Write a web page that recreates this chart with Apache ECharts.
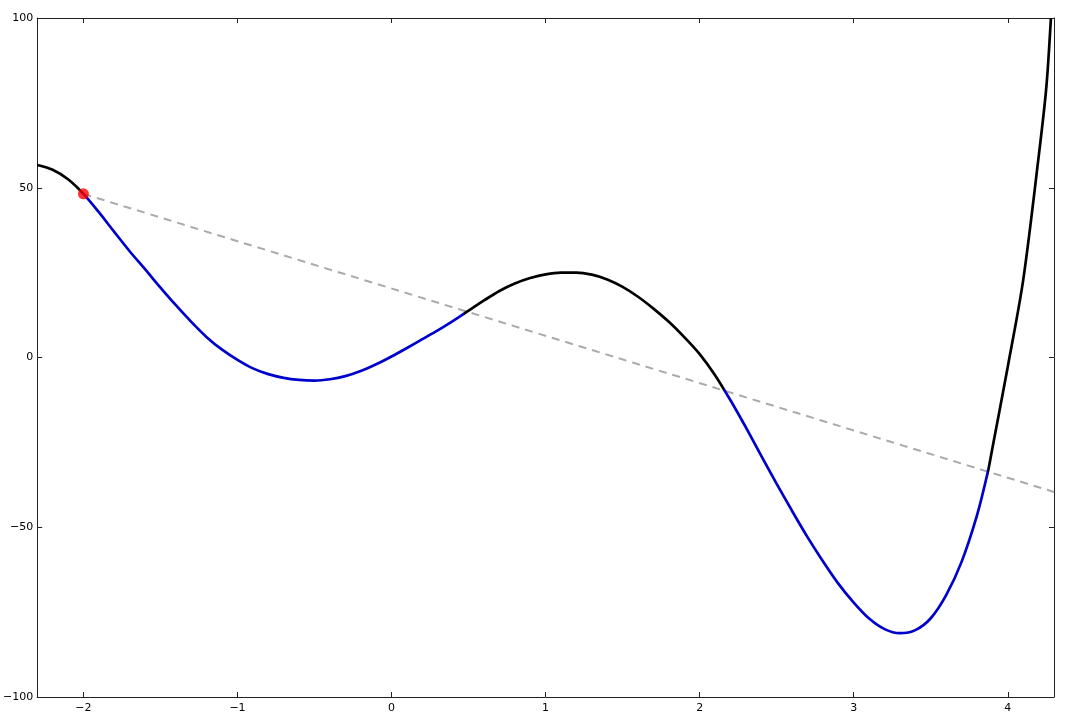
<!DOCTYPE html>
<html>
<head>
<meta charset="utf-8">
<script src="https://cdn.jsdelivr.net/npm/echarts@6/dist/echarts.min.js"></script>
<style>
  html, body { margin: 0; padding: 0; background: #fff; }
  #chart { width: 1068px; height: 721px; }
</style>
</head>
<body>
<div id="chart"></div>
<script>
  // curve points
  var curveX = [-2.3, -2.2, -2.1, -2.0, -1.9, -1.8, -1.7, -1.6, -1.5, -1.4, -1.3, -1.2, -1.1, -1.0,
                -0.9, -0.8, -0.7, -0.6, -0.5, -0.4, -0.3, -0.2, -0.1, 0.0, 0.1, 0.2, 0.3, 0.4, 0.5,
                0.6, 0.7, 0.8, 0.9, 1.0, 1.1, 1.2, 1.3, 1.4, 1.5, 1.6, 1.7, 1.8, 1.9, 2.0,
                2.1, 2.2, 2.3, 2.4, 2.5, 2.6, 2.7, 2.8, 2.9, 3.0, 3.1, 3.2, 3.3, 3.4, 3.5,
                3.6, 3.7, 3.8, 3.87, 3.9, 4.0, 4.1, 4.2, 4.25, 4.28];
  var curveY = [56.7, 55.3, 52.5, 48.2, 42.8, 37.0, 31.3, 26.0, 20.6, 15.4, 10.5, 6.0, 2.3, -0.7,
                -3.2, -4.9, -6.0, -6.6, -6.8, -6.4, -5.5, -4.0, -2.0, 0.3, 2.8, 5.4, 8.0, 10.8, 13.8,
                16.8, 19.6, 21.8, 23.4, 24.5, 25.0, 25.0, 24.4, 23.0, 20.8, 17.9, 14.4, 10.5, 6.0, 1.0,
                -5.2, -12.6, -20.6, -29.0, -37.2, -45.2, -52.9, -60.0, -66.6, -72.2, -76.9, -80.0, -81.2, -80.3, -76.8,
                -70.0, -60.2, -46.5, -33.8, -26.7, -2.7, 22.8, 59.0, 79.5, 100];
  // parts of the curve that lie under the dashed line (blue)
  var blueRanges = [[-2.00, 0.47], [2.16, 3.87]];
  // dashed secant line
  var lineX = [-2.0, 4.3];
  var lineY = [48.2, -39.6];
  // red point
  var pointX = [-2.0];
  var pointY = [48.2];
  // ticks
  var xTicks = [-2, -1, 0, 1, 2, 3, 4];
  var yTicks = [-100, -50, 0, 50, 100];

  function zip(a, b) {
    return a.map(function (v, i) { return [v, b[i]]; });
  }
  function fmt(v) {
    return v < 0 ? '\u2212' + Math.abs(v) : String(v);
  }

  var pieces = [];
  var prev = -Infinity;
  blueRanges.forEach(function (r) {
    pieces.push({ gt: prev, lte: r[0], color: '#000000' });
    pieces.push({ gt: r[0], lte: r[1], color: '#0000cc' });
    prev = r[1];
  });
  pieces.push({ gt: prev, color: '#000000' });

  var labelFont = { color: '#000', fontSize: 11, fontFamily: 'DejaVu Sans' };
  var axisLine = { show: true, onZero: false, lineStyle: { color: '#222', width: 1 } };
  var tick = { show: true, inside: true, length: 5, lineStyle: { color: '#222' } };

  var myChart = echarts.init(document.getElementById('chart'));
  myChart.setOption({
    animation: false,
    backgroundColor: '#fff',
    grid: { left: 36, right: 14, top: 18, bottom: 24 },
    xAxis: [
      {
        type: 'value', min: -2.3, max: 4.3, position: 'bottom',
        axisLine: axisLine,
        splitLine: { show: false },
        axisTick: Object.assign({ customValues: xTicks }, tick),
        axisLabel: Object.assign({ customValues: xTicks, margin: 6, formatter: fmt }, labelFont)
      },
      {
        type: 'value', min: -2.3, max: 4.3, position: 'top',
        axisLine: axisLine,
        splitLine: { show: false },
        axisTick: Object.assign({ customValues: xTicks }, tick),
        axisLabel: { show: false }
      }
    ],
    yAxis: [
      {
        type: 'value', min: -100, max: 100, position: 'left',
        axisLine: axisLine,
        splitLine: { show: false },
        axisTick: Object.assign({ customValues: yTicks }, tick),
        axisLabel: Object.assign({ customValues: yTicks, margin: 4, formatter: fmt }, labelFont)
      },
      {
        type: 'value', min: -100, max: 100, position: 'right',
        axisLine: axisLine,
        splitLine: { show: false },
        axisTick: Object.assign({ customValues: yTicks }, tick),
        axisLabel: { show: false }
      }
    ],
    visualMap: {
      show: false,
      type: 'piecewise',
      dimension: 0,
      seriesIndex: 1,
      pieces: pieces
    },
    series: [
      {
        type: 'line',
        data: zip(lineX, lineY),
        symbol: 'none',
        lineStyle: { color: '#aaaaaa', width: 2, type: [8, 6] },
        z: 2
      },
      {
        type: 'line',
        data: zip(curveX, curveY),
        smooth: 0.3,
        symbol: 'none',
        lineStyle: { width: 2.7 },
        z: 3
      },
      {
        type: 'scatter',
        data: zip(pointX, pointY),
        symbolSize: 11,
        itemStyle: { color: '#ff0000' },
        z: 4
      }
    ]
  });
  window.addEventListener('resize', myChart.resize);
</script>
</body>
</html>
